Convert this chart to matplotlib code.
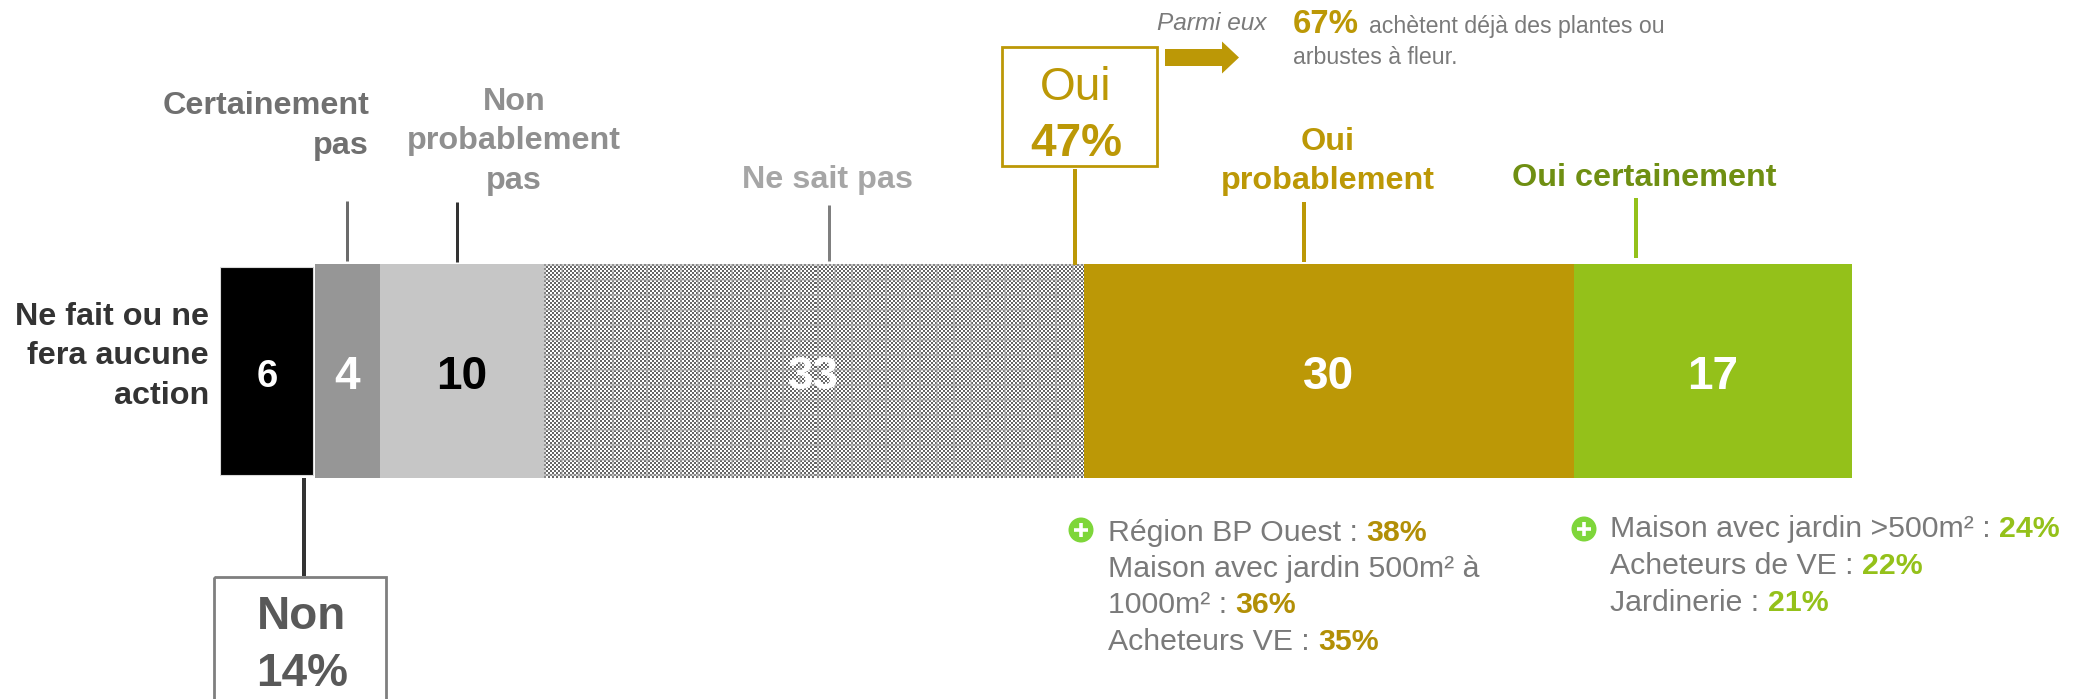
import numpy as np
import matplotlib
matplotlib.use("Agg")
import matplotlib.pyplot as plt
from matplotlib.patches import Circle, FancyArrow, Rectangle

W, H = 2084, 699
GOLD = "#bc9806"
GREEN = "#94c11a"
TXT = "#7a7a7a"

# ------------------------------------------------------------------
# Data
# ------------------------------------------------------------------
categories = ["Certainement pas (black)", "Certainement pas", "Non probablement pas",
              "Ne sait pas", "Oui probablement", "Oui certainement"]
shares = [5.8, 4, 10, 33, 30, 17]
value_labels = ["6", "4", "10", "33", "30", "17"]
bar_colors = ["#000000", "#969696", "#c6c6c6", "#8c8c8c", GOLD, GREEN]
label_colors = ["white", "white", "black", "white", "white", "white"]

plt.rcParams["font.family"] = ["Liberation Sans", "DejaVu Sans"]
fig = plt.figure(figsize=(W / 100, H / 100), dpi=100, facecolor="white")

# ------------------------------------------------------------------
# Stacked bar
# ------------------------------------------------------------------
bar_ax = fig.add_axes([220 / W, 1 - 478 / H, 1632 / W, 214 / H])
lefts = np.concatenate([[0], np.cumsum(shares)[:-1]])
for i, (left, val, col) in enumerate(zip(lefts, shares, bar_colors)):
    if i == 0:
        bar_ax.barh(0, val - 0.1, left=left, height=0.97, color=col,
                    edgecolor="#d9d9d9", linewidth=0.8)
    else:
        bar_ax.barh(0, val, left=left, height=1, color=col, linewidth=0)
    size = 27.5 if i == 0 else 33
    bar_ax.text(left + val / 2, -0.03, value_labels[i], color=label_colors[i],
                fontsize=size, fontweight="bold", ha="center", va="center", zorder=5)

# fine checker texture of the "Ne sait pas" segment
seg_w, seg_h = 539, 214
yy, xx = np.indices((seg_h, seg_w))
tex = np.where((xx // 2 + yy // 2) % 2 == 0, 0.40, 1.0)
tex[:, xx[0] % 17 < 2] = 0.5 * tex[:, xx[0] % 17 < 2] + 0.5 * 0.66
tex[yy[:, 0] % 15 < 2, :] = 0.5 * tex[yy[:, 0] % 15 < 2, :] + 0.5 * 0.66
bar_ax.imshow(tex, cmap="gray", vmin=0, vmax=1, interpolation="nearest", aspect="auto",
              extent=[lefts[3], lefts[3] + shares[3], -0.5, 0.5], zorder=3)
bar_ax.set_xlim(0, sum(shares))
bar_ax.set_ylim(-0.5, 0.5)
bar_ax.axis("off")

# ------------------------------------------------------------------
# Annotations, in reference pixels
# ------------------------------------------------------------------
ax = fig.add_axes([0, 0, 1, 1], zorder=10)
ax.set_xlim(0, W)
ax.set_ylim(H, 0)
ax.axis("off")
ax.patch.set_alpha(0)


def label(x, y, s, color, size=23.3, weight="bold", ha="center", **kw):
    return ax.text(x, y, s, color=color, fontsize=size, fontweight=weight,
                   ha=ha, va="center", **kw)


def leader(x, y0, y1, color, px=3):
    ax.plot([x, x], [y0, y1], color=color, lw=px * 0.72, solid_capstyle="butt")


def rich_line(x, y, parts, size=21.8):
    # parts: (text, color, weight), set end to end on one baseline
    rend = fig.canvas.get_renderer()
    for s, color, weight in parts:
        t = ax.text(x, y, s, color=color, fontsize=size, fontweight=weight,
                    ha="left", va="baseline")
        x += t.get_window_extent(rend).width + size * 0.39


def plus_icon(x, y):
    ax.add_patch(Circle((x, y), 12.5, color="#7ed63a", lw=0))
    ax.plot([x - 7, x + 7], [y, y], color="white", lw=2.6, solid_capstyle="butt")
    ax.plot([x, x], [y - 7, y + 7], color="white", lw=2.6, solid_capstyle="butt")


# left title
for y, s in zip([317, 356, 396], ["Ne fait ou ne", "fera aucune", "action"]):
    label(209, y, s, "#333333", ha="right")

# category headings
label(369, 106, "Certainement", "#707070", ha="right")
label(369, 146, "pas", "#707070", ha="right")
for y, s in zip([102, 141, 181], ["Non", "probablement", "pas"]):
    label(514, y, s, "#8f8f8f")
label(827, 180, "Ne sait pas", "#a6a6a6")
label(1328, 142, "Oui", GOLD)
label(1328, 181, "probablement", GOLD)
label(1644, 178, "Oui certainement", "#6f8f12")

leader(347, 201, 261, "#6b6b6b")
leader(457, 202, 262, "#333333")
leader(829, 205, 261, "#7f7f7f")
leader(1075, 169, 265, GOLD, px=4)
leader(1304, 202, 262, GOLD, px=4)
leader(1636, 198, 258, GREEN, px=4)
leader(304, 478, 576, "#333333", px=4)

# Oui box
ax.add_patch(Rectangle((1002, 47), 155, 119, fill=False, edgecolor=GOLD, lw=2))
label(1076, 88, "Oui", GOLD, size=33, weight="normal")
label(1076, 144, "47%", GOLD, size=33)

# Non box, runs off the bottom edge
ax.add_patch(Rectangle((214, 577), 172, 140, fill=False, edgecolor="#7f7f7f", lw=2))
label(302, 617, "Non", "#595959", size=33)
label(302, 674, "14%", "#595959", size=33)

# Parmi eux note
label(1157, 23, "Parmi eux", TXT, size=17.6, weight="normal", ha="left", style="italic")
ax.add_patch(FancyArrow(1165, 57.5, 74, 0, width=17, head_width=32, head_length=17,
                        length_includes_head=True, color=GOLD, lw=0))
ax.text(1293, 33, "67%", color=GOLD, fontsize=23.7, fontweight="bold", ha="left", va="baseline")
ax.text(1369, 33, "achètent déjà des plantes ou", color=TXT, fontsize=16.7, ha="left", va="baseline")
ax.text(1293, 64, "arbustes à fleur.", color=TXT, fontsize=16.7, ha="left", va="baseline")

# + groups
plus_icon(1081, 530)
rich_line(1108, 541, [("Région BP Ouest :", TXT, "normal"), ("38%", "#b28f06", "bold")])
rich_line(1108, 577, [("Maison avec jardin 500m² à", TXT, "normal")])
rich_line(1108, 613, [("1000m² :", TXT, "normal"), ("36%", "#b28f06", "bold")])
rich_line(1108, 650, [("Acheteurs VE :", TXT, "normal"), ("35%", "#b28f06", "bold")])

plus_icon(1584, 529)
rich_line(1610, 537, [("Maison avec jardin >500m² :", TXT, "normal"), ("24%", GREEN, "bold")])
rich_line(1610, 574, [("Acheteurs de VE :", TXT, "normal"), ("22%", GREEN, "bold")])
rich_line(1610, 611, [("Jardinerie :", TXT, "normal"), ("21%", GREEN, "bold")])

fig.savefig("out.png", dpi=100)
